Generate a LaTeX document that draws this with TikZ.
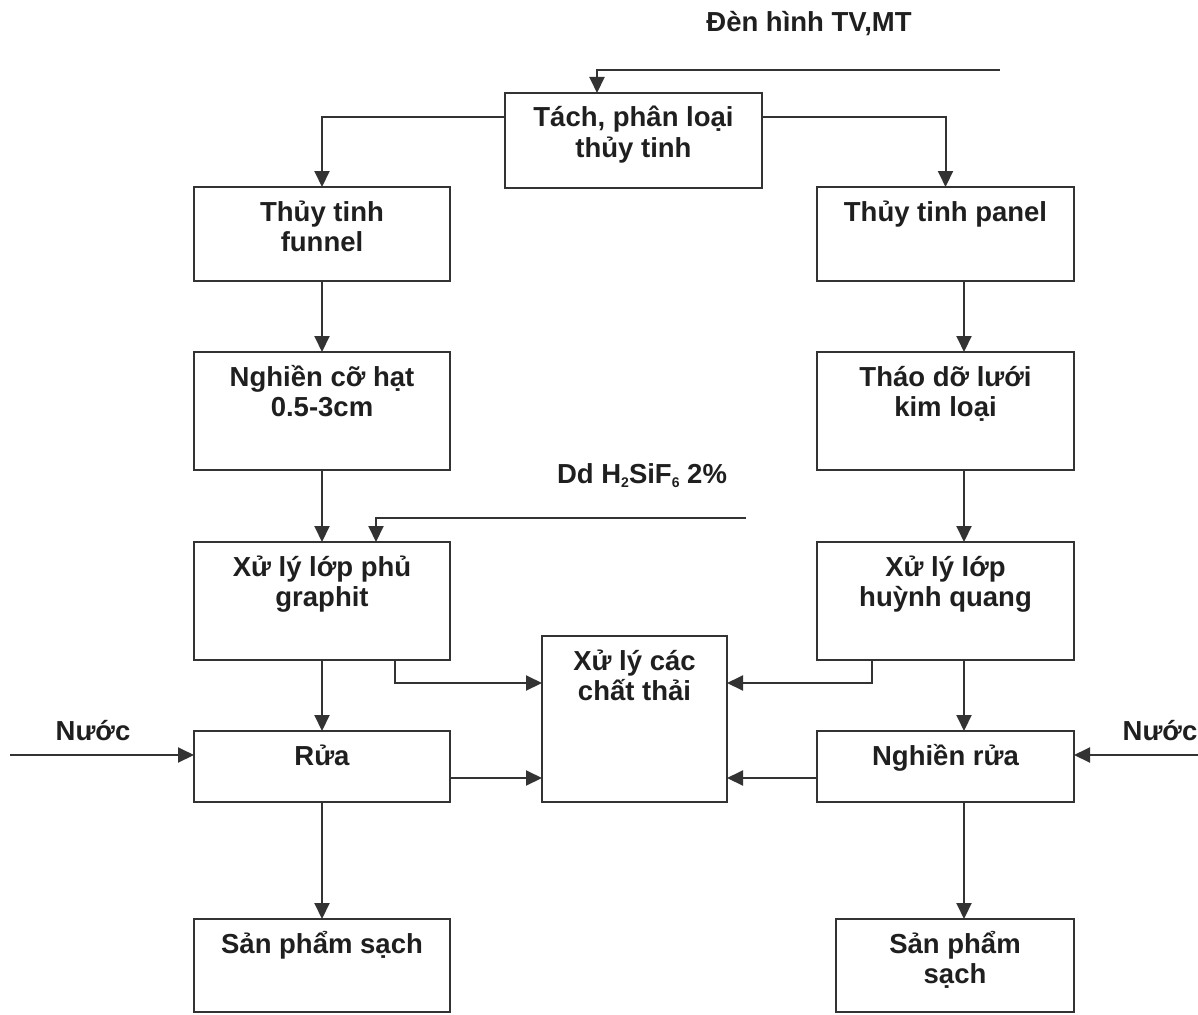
\documentclass[tikz,border=0pt]{standalone}
\usepackage{fontspec}
\setmainfont{Liberation Sans}
\usetikzlibrary{arrows.meta,calc}
\newcommand\bxt[3]{\parbox[t][#2][t]{#1}{\centering\baselineskip=30pt\lineskiplimit=-100pt\lineskip=0pt\rule{0pt}{34pt}#3\par}}
\newcommand\mysub[1]{\raisebox{-4pt}{\fontsize{14}{14}\selectfont #1}}
\begin{document}
\begin{tikzpicture}[x=1pt,y=-1pt,
  every node/.style={font=\fontsize{27.5}{30}\selectfont\bfseries, text=black!88},
  box/.style={draw=black!80, line width=2pt, inner sep=0pt, outer sep=0pt, anchor=north west},
  lbl/.style={inner sep=0pt, anchor=base},
  conn/.style={draw=black!80, line width=2pt, -{Triangle[length=16pt,width=15pt]}},
  plain/.style={draw=black!80, line width=2pt}]
\useasboundingbox (0,0) rectangle (1198,1014);

\node[box] (top)    at (505,93)  {\bxt{257pt}{95pt}{Tách, phân loại\\thủy tinh}};
\node[box] (funnel) at (194,187) {\bxt{256pt}{94pt}{Thủy tinh\\funnel}};
\node[box] (panel)  at (817,187) {\bxt{257pt}{94pt}{Thủy tinh panel}};
\node[box] (ngh)    at (194,352) {\bxt{256pt}{118pt}{Nghiền cỡ hạt\\0.5-3cm}};
\node[box] (thao)   at (817,352) {\bxt{257pt}{118pt}{Tháo dỡ lưới\\kim loại}};
\node[box] (graph)  at (194,542) {\bxt{256pt}{118pt}{Xử lý lớp phủ\\graphit}};
\node[box] (huynh)  at (817,542) {\bxt{257pt}{118pt}{Xử lý lớp\\huỳnh quang}};
\node[box] (waste)  at (542,636) {\bxt{185pt}{166pt}{Xử lý các\\chất thải}};
\node[box] (rua)    at (194,731) {\bxt{256pt}{71pt}{Rửa}};
\node[box] (nrua)   at (817,731) {\bxt{257pt}{71pt}{Nghiền rửa}};
\node[box] (sp1)    at (194,919) {\bxt{256pt}{93pt}{Sản phẩm sạch}};
\node[box] (sp2)    at (836,919) {\bxt{238pt}{93pt}{Sản phẩm\\sạch}};

\node[lbl] (tvlbl)  at (809,32)  {Đèn hình TV,MT};
\node[lbl] (ddlbl)  at (642,483) {Dd H\mysub{2}SiF\mysub{6} 2\%};
\node[lbl] (nuoc1)  at (93,740)  {Nước};
\node[lbl] (nuoc2)  at (1160,740) {Nước};

\coordinate (tvin) at (1000,70);
\coordinate (ddin) at (746,518);
\coordinate (win1) at (10,755);
\coordinate (win2) at (1198,755);

% top input
\draw[conn] (tvin) -- (597,70) -- (597,93);
% split
\draw[conn] (top.north west) ++(0,24) -- (322,117) -- (funnel.north);
\draw[conn] (top.north east) ++(0,24) -- (945.5,117) -- (panel.north);
% left column
\draw[conn] (funnel.south) -- (ngh.north);
\draw[conn] (ngh.south) -- (graph.north);
\draw[conn] (graph.south) -- (rua.north);
\draw[conn] (rua.south) -- (sp1.north);
% right column
\draw[conn] (panel.south west) ++(147,0) -- ($(thao.north west)+(147,0)$);
\draw[conn] (thao.south west) ++(147,0) -- ($(huynh.north west)+(147,0)$);
\draw[conn] (huynh.south west) ++(147,0) -- ($(nrua.north west)+(147,0)$);
\draw[conn] (nrua.south west) ++(147,0) -- ($(sp2.north west)+(128,0)$);
% acid input
\draw[conn] (ddin) -- (376,518) -- ($(graph.north west)+(182,0)$);
% waste connections
\draw[conn] ($(graph.south west)+(201,0)$) -- (395,683) -- ($(waste.north west)+(0,47)$);
\draw[conn] ($(huynh.south west)+(55,0)$) -- (872,683) -- ($(waste.north east)+(0,47)$);
\draw[conn] ($(rua.north east)+(0,47)$) -- ($(waste.north west)+(0,142)$);
\draw[conn] ($(nrua.north west)+(0,47)$) -- ($(waste.north east)+(0,142)$);
% water
\draw[conn] (win1) -- ($(rua.north west)+(0,24)$);
\draw[conn] (win2) -- ($(nrua.north east)+(0,24)$);
\end{tikzpicture}
\end{document}
